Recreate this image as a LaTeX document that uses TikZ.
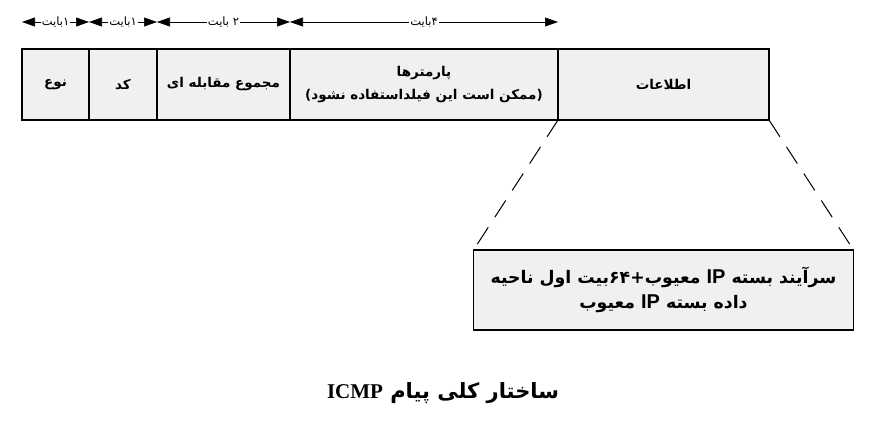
\documentclass[tikz,border=0pt]{standalone}
\usepackage{fontspec}
\setmainfont{Liberation Serif}
\newfontfamily\farsi[Script=Arabic]{DejaVu Sans}
\newfontfamily\latinsans{Liberation Sans}
\TeXXeTstate=1
\usepackage{tikz}
\usetikzlibrary{positioning,arrows.meta}
\definecolor{icmpfill}{HTML}{F0F0F0}
\newcommand{\fa}[1]{{\farsi\beginR #1\endR}}
\newcommand{\ip}{\beginL{\latinsans\bfseries\fontsize{20}{25}\selectfont IP}\endL}

\begin{document}
\begin{tikzpicture}[x=1pt,y=-1pt,
  field/.style={draw,line width=1.8pt,fill=icmpfill,minimum height=71pt,inner sep=0pt,outer sep=0pt,font=\farsi\bfseries\fontsize{13.5}{23}\selectfont},
  dimarr/.style={{Triangle[length=13pt,width=9pt]}-{Triangle[length=13pt,width=9pt]},line width=0.6pt},
  bytes/.style={fill=white,inner sep=1pt,font=\farsi\fontsize{11.5}{12}\selectfont},
  zoomline/.style={dash pattern=on 20pt off 12pt,line width=1pt}
]
\useasboundingbox (0,0) rectangle (887,436);

% header fields
\node[field,minimum width=67pt] (type) at (55.5,84.5) {\fa{نوع}};
\node[field,minimum width=68pt,right=0pt of type] (code) {\fa{کد}};
\node[field,minimum width=133pt,right=0pt of code] (checksum) {\fa{مجموع مقابله ای}};
\node[field,minimum width=268pt,right=0pt of checksum,align=center] (params) {\fa{پارمترها}\\\fa{(ممکن است این فیلداستفاده نشود)}};
\node[field,minimum width=211pt,right=0pt of params] (info) {\fa{اطلاعات}};

% byte sizes
\coordinate (t0) at ([yshift=27pt]type.north west);
\coordinate (t1) at ([yshift=27pt]code.north west);
\coordinate (t2) at ([yshift=27pt]checksum.north west);
\coordinate (t3) at ([yshift=27pt]params.north west);
\coordinate (t4) at ([yshift=27pt]params.north east);
\draw[dimarr] (t0) -- node[bytes] {\fa{۱بایت}} (t1);
\draw[dimarr] (t1) -- node[bytes] {\fa{۱بایت}} (t2);
\draw[dimarr] (t2) -- node[bytes] {\fa{۲ بایت}} (t3);
\draw[dimarr] (t3) -- node[bytes] {\fa{۴بایت}} (t4);

% data part
\node[field,minimum width=380pt,minimum height=80pt,below=130pt of info,align=center,font=\farsi\bfseries\fontsize{17.3}{25}\selectfont] (payload)
  {\fa{سرآیند بسته \ip{} معیوب+۶۴بیت اول ناحیه}\\\fa{داده بسته \ip{} معیوب}};
\draw[zoomline] (info.south west) -- (payload.north west);
\draw[zoomline] (info.south east) -- (payload.north east);

\node[font=\bfseries\fontsize{21}{24}\selectfont] (caption) at (443,393) {\fa{ساختار کلی پیام \beginL{\rmfamily ICMP}\endL}};
\end{tikzpicture}
\end{document}
